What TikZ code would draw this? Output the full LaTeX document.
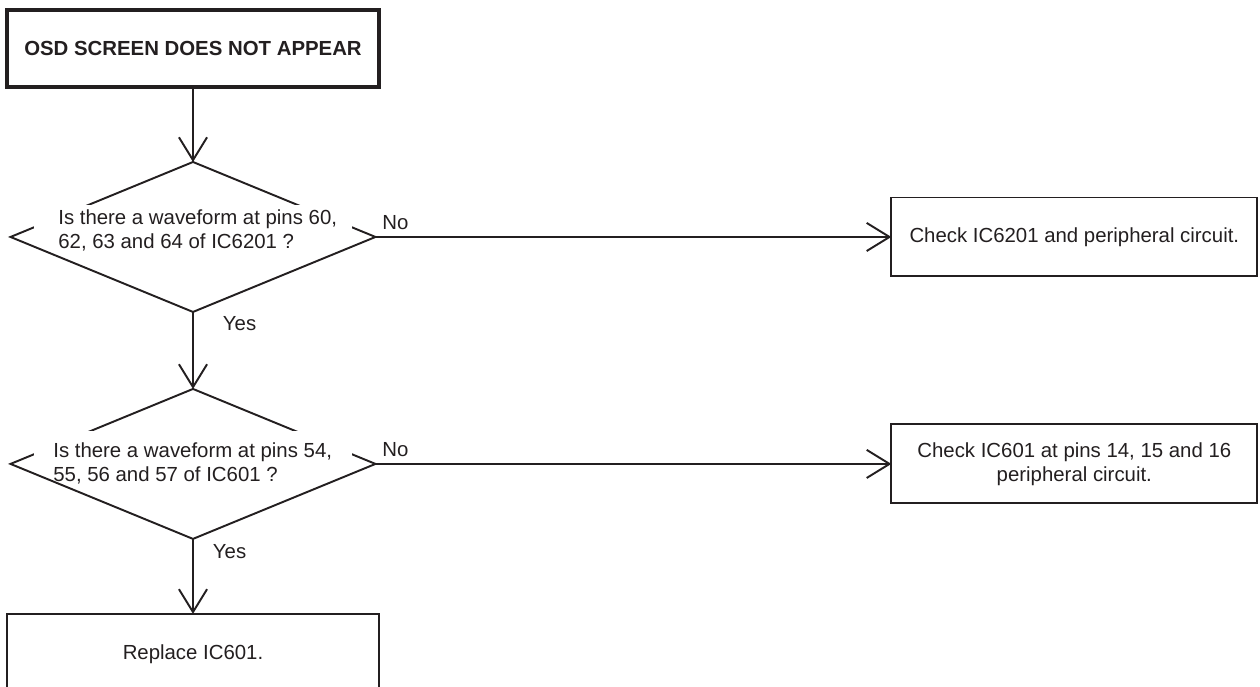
\documentclass[tikz,border=0pt]{standalone}
\usepackage{fontspec}
\setmainfont{Liberation Sans}
\usepackage{tikz}
\usetikzlibrary{shapes.geometric,arrows.meta,positioning,calc}
\usepackage{xcolor}
\definecolor{ink}{HTML}{231F20}

\begin{document}
\begin{tikzpicture}[
    x=0.02cm, y=-0.02cm,
    every node/.style={text=ink, font=\fontsize{11.6}{13.8}\selectfont},
    startbox/.style={draw=ink, rectangle, line width=2.3pt, outer sep=0pt, minimum width=7.44cm, minimum height=1.54cm, font=\bfseries\fontsize{11.6}{13.8}\selectfont},
    block/.style={draw=ink, rectangle, line width=1.1pt, outer sep=0pt, minimum width=7.32cm, minimum height=1.58cm, align=center},
    decision/.style={draw=ink, diamond, line width=1.1pt, outer sep=0pt, inner sep=0pt, minimum width=7.3cm, minimum height=3cm},
    question/.style={align=left, anchor=north west, inner sep=0pt},
    line/.style={draw=ink, line width=1.1pt, -{Straight Barb[length=13pt, width=16pt]}}
]
    \clip (0,0) rectangle (1260,686);
    \useasboundingbox (0,0) rectangle (1260,686);

    \node [startbox] (start) at (193,48.5) {OSD SCREEN DOES NOT APPEAR};
    \node [decision, below=1.5cm of start] (q1) {};
    \node [block, right=10.32cm of q1] (chk1) {Check IC6201 and peripheral circuit.};
    \node [decision, below=1.54cm of q1] (q2) {};
    \node [block, right=10.32cm of q2] (chk2) {Check IC601 at pins 14, 15 and 16\\peripheral circuit.};
    \node [block, minimum width=7.44cm, minimum height=1.6cm, below=1.5cm of q2] (repl) {Replace IC601.};

    % white frames behind the questions
    \fill [white] ($(q1.center)+(-159,-32)$) rectangle ($(q1.center)+(159,-5)$);
    \fill [white] ($(q2.center)+(-159,-33)$) rectangle ($(q2.center)+(159,-4)$);
    \node [question] (q1text) at ($(q1.center)+(-135,-27.5)$) {Is there a waveform at pins 60,\\62, 63 and 64 of IC6201 ?};
    \node [question] (q2text) at ($(q2.center)+(-140,-21.5)$) {Is there a waveform at pins 54,\\55, 56 and 57 of IC601 ?};

    \path [line] (start) -- (q1);
    \path [line] (q1.east) -- node[pos=0, above right] {No} (chk1.west);
    \path [line] (q1.south) -- node[pos=0, anchor=north west, inner sep=0pt, xshift=0.58cm, yshift=-0.08cm] {Yes} (q2.north);
    \path [line] (q2.east) -- node[pos=0, above right] {No} (chk2.west);
    \path [line] (q2.south) -- node[pos=0, anchor=north west, inner sep=0pt, xshift=0.38cm, yshift=-0.1cm] {Yes} (repl.north);
\end{tikzpicture}
\end{document}
